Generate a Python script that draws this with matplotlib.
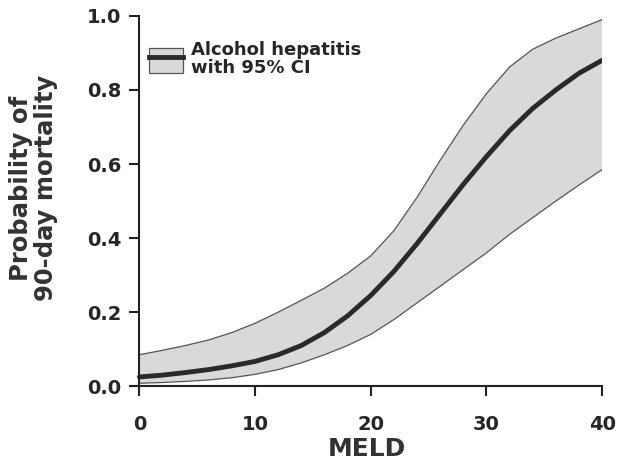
import matplotlib
matplotlib.use("Agg")
import matplotlib.pyplot as plt
from matplotlib.patches import Patch
from matplotlib.lines import Line2D

plt.rcParams['font.family'] = ['DejaVu Sans']
plt.rcParams['font.weight'] = 'bold'

meld = [0, 2, 4, 6, 8, 10, 12, 14, 16, 18, 20, 22, 24, 26, 28, 30, 32, 34, 36, 38, 40]
prob = [0.025, 0.030, 0.037, 0.045, 0.055, 0.067, 0.085, 0.11, 0.145, 0.19, 0.245,
        0.31, 0.385, 0.465, 0.545, 0.62, 0.69, 0.75, 0.80, 0.845, 0.88]
upper = [0.085, 0.097, 0.11, 0.125, 0.145, 0.17, 0.20, 0.232, 0.265, 0.305, 0.352,
         0.42, 0.51, 0.61, 0.705, 0.79, 0.862, 0.91, 0.94, 0.965, 0.99]
lower = [0.008, 0.010, 0.013, 0.017, 0.023, 0.032, 0.045, 0.063, 0.085, 0.11, 0.14,
         0.18, 0.225, 0.27, 0.315, 0.36, 0.41, 0.455, 0.50, 0.543, 0.585]
xticks = [0, 10, 20, 30, 40]
yticks = [0.0, 0.2, 0.4, 0.6, 0.8, 1.0]

fig = plt.figure(figsize=(6.22, 4.67), dpi=100)
ax = fig.add_axes([0.213, 0.173, 0.755, 0.793])

ax.fill_between(meld, lower, upper, facecolor='#d9d9d9', edgecolor='none')
ax.plot(meld, upper, color='#555555', lw=0.9)
ax.plot(meld, lower, color='#555555', lw=0.9)
ax.plot(meld, prob, color='#2a2a2a', lw=3.5, solid_capstyle='round')

ax.set_xlim(-0.6, 40)
ax.set_ylim(0, 1.0)
ax.spines['left'].set_position(('data', 0))
ax.spines['right'].set_visible(False)
ax.spines['top'].set_visible(False)
for s in ['left', 'bottom']:
    ax.spines[s].set_linewidth(1.5)
    ax.spines[s].set_color('#222222')
ax.set_xticks(xticks)
ax.set_xticklabels([str(t) for t in xticks])
ax.set_yticks(yticks)
ax.set_yticklabels([f"{t:.1f}" for t in yticks])
ax.tick_params(direction='out', length=7, width=1.5, labelsize=14, colors='#222222', pad=6)
for lab in ax.get_xticklabels() + ax.get_yticklabels():
    lab.set_fontweight('bold')
    lab.set_color('#262626')
ax.tick_params(axis='x', pad=14)

ax.set_xlabel('MELD', fontsize=18, fontweight='bold', color='#333333', labelpad=2)
ax.set_ylabel('Probability of\n90-day mortality', fontsize=17.5, fontweight='bold',
              color='#333333', linespacing=1.05)
ax.yaxis.set_label_coords(-0.158, 0.535)

h = (Patch(facecolor='#d9d9d9', edgecolor='#555555', lw=0.9),
     Line2D([0], [0], color='#2a2a2a', lw=3.5))
leg = ax.legend([h], ['Alcohol hepatitis\nwith 95% CI'], loc='upper left',
                bbox_to_anchor=(0.0, 0.975), frameon=False,
                prop={'weight': 'bold', 'size': 13}, handlelength=1.9, handleheight=1.7,
                handletextpad=0.45, labelcolor='#262626')
for t in leg.get_texts():
    t.set_linespacing(1.0)

fig.savefig('out.png', dpi=100)
